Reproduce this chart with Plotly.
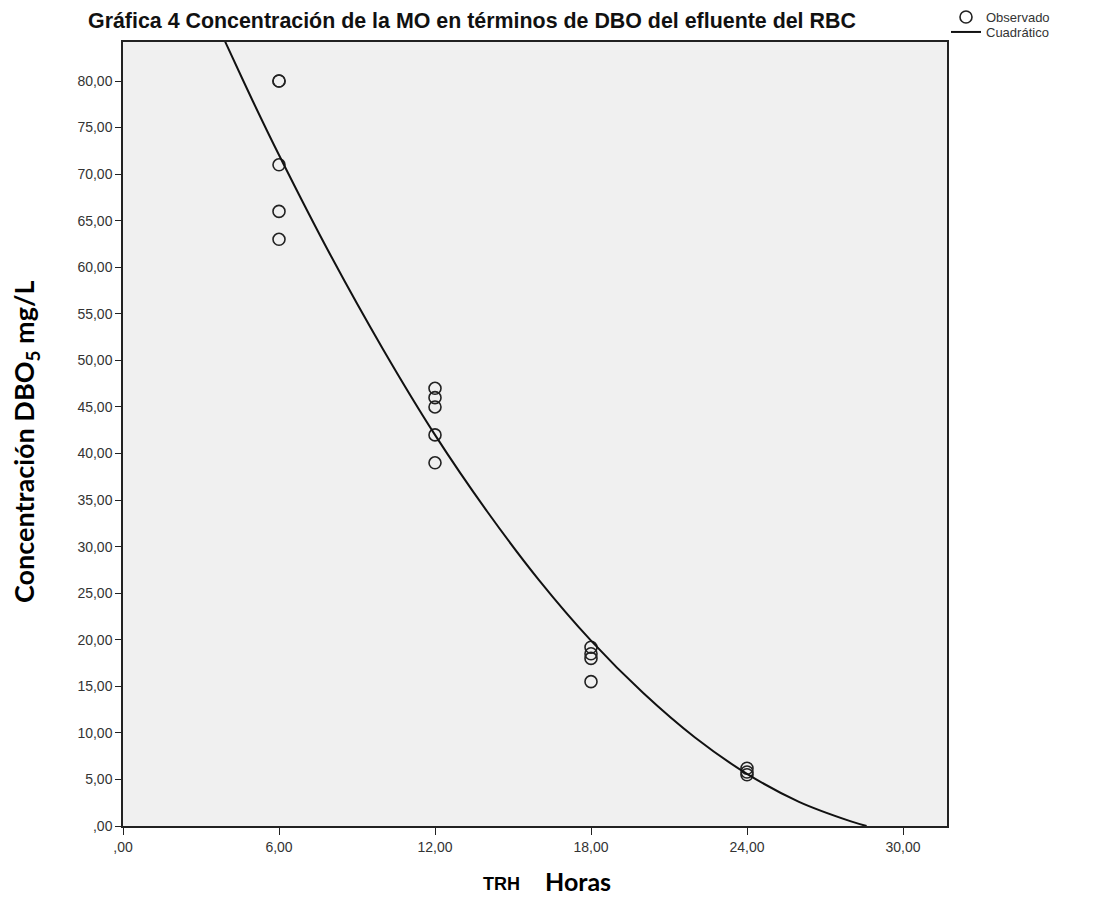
import plotly.graph_objects as go

# Observed data (TRH hours vs DBO5 concentration mg/L)
obs_x = [6, 6, 6, 6, 6, 12, 12, 12, 12, 12, 18, 18, 18, 18, 24, 24, 24]
obs_y = [80, 80, 71, 66, 63, 47, 46, 45, 42, 39, 19.2, 18.5, 18.0, 15.5, 6.2, 5.8, 5.5]

# Quadratic model curve
fit_x = [3.5, 4, 5, 6, 8, 10, 12, 14, 16, 18, 20, 22, 24, 26, 28, 28.6]
fit_y = [86.9, 83.8, 77.8, 72.05, 61.2, 51.2, 42.0, 33.8, 26.4, 19.9, 14.3, 9.5, 5.6, 2.6, 0.5, 0.0]

x_tickvals = [0, 6, 12, 18, 24, 30]
x_ticktext = [",00", "6,00", "12,00", "18,00", "24,00", "30,00"]
y_tickvals = [0, 5, 10, 15, 20, 25, 30, 35, 40, 45, 50, 55, 60, 65, 70, 75, 80]
y_ticktext = [",00", "5,00", "10,00", "15,00", "20,00", "25,00", "30,00", "35,00", "40,00",
              "45,00", "50,00", "55,00", "60,00", "65,00", "70,00", "75,00", "80,00"]

# The page adds an 8px body margin, so work in shifted coordinates
OFF = 8
W, H = 1118 - OFF, 907 - OFF
L, R, T, B = 123 - OFF, 947 - OFF, 42 - OFF, 826 - OFF
PW, PH = R - L, B - T


def px(xr):
    return (xr - OFF - L) / PW


def py(yr):
    return (B - (yr - OFF)) / PH


fig = go.Figure()
fig.add_trace(go.Scatter(
    x=obs_x, y=obs_y, mode="markers", name="Observado", legend="legend",
    marker=dict(symbol="circle-open", size=12, color="#222222", line=dict(width=1.6)),
))
fig.add_trace(go.Scatter(
    x=fit_x, y=fit_y, mode="lines", name="Cuadrático", legend="legend2",
    line=dict(color="#111111", width=2, shape="spline"),
))

tickfont = dict(family="Liberation Sans, Arial, sans-serif", size=14, color="#333333")
legfont = dict(family="Liberation Sans, Arial, sans-serif", size=13, color="#333333")

fig.update_layout(
    width=W, height=H,
    margin=dict(l=L, r=W - R, t=T, b=H - B, autoexpand=False),
    paper_bgcolor="white",
    plot_bgcolor="#f0f0f0",
    showlegend=True,
    legend=dict(
        x=px(946), y=py(17), xanchor="left", yanchor="middle",
        font=legfont, bgcolor="rgba(0,0,0,0)", itemwidth=30,
    ),
    legend2=dict(
        x=px(946), y=py(32), xanchor="left", yanchor="middle",
        font=legfont, bgcolor="rgba(0,0,0,0)", itemwidth=30,
    ),
    title=dict(
        text="<b>Gráfica 4 Concentración de la MO en términos de DBO del efluente del RBC</b>",
        x=(88 - OFF) / W, xref="container", xanchor="left",
        y=1 - (21 - OFF) / H, yref="container", yanchor="middle",
        font=dict(family="Liberation Sans, Arial, sans-serif", size=21.4, color="#111111"),
    ),
    xaxis=dict(
        range=[0, PW / 26.0],
        tickvals=x_tickvals, ticktext=x_ticktext,
        ticks="outside", ticklen=7, tickwidth=1, tickcolor="#222222",
        showgrid=False, zeroline=False,
        showline=True, linecolor="#222222", linewidth=1.5, mirror=True,
        tickfont=tickfont,
    ),
    yaxis=dict(
        range=[0, PH / 9.3125],
        tickvals=y_tickvals, ticktext=y_ticktext,
        ticks="outside", ticklen=6, tickwidth=1, tickcolor="#222222",
        showgrid=False, zeroline=False,
        showline=True, linecolor="#222222", linewidth=1.5, mirror=True,
        tickfont=tickfont,
    ),
)

# Y axis title placed at the reference position
fig.add_annotation(
    text="<b>Concentración DBO<sub>5</sub> mg/L</b>", xref="paper", yref="paper",
    x=px(25), y=py(442), textangle=-90,
    xanchor="center", yanchor="middle", showarrow=False,
    font=dict(family="Lato, Open Sans, sans-serif", size=27, color="#000000"),
)
fig.add_annotation(
    text="<b>TRH</b>", xref="paper", yref="paper",
    x=px(501), y=py(884),
    xanchor="center", yanchor="middle", showarrow=False,
    font=dict(family="Liberation Sans, Arial, sans-serif", size=18, color="#000000"),
)
fig.add_annotation(
    text="<b>Horas</b>", xref="paper", yref="paper",
    x=px(578), y=py(881),
    xanchor="center", yanchor="middle", showarrow=False,
    font=dict(family="Lato, Open Sans, sans-serif", size=25, color="#000000"),
)

fig.write_html("out.html")
